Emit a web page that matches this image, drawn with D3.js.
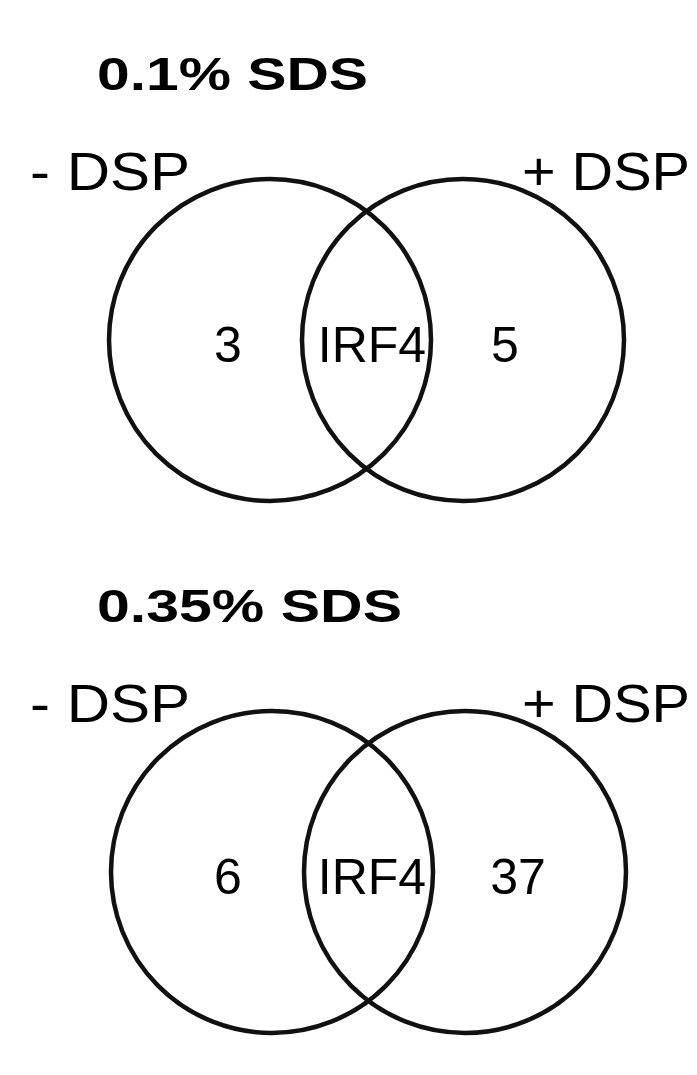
<!DOCTYPE html>
<html><head><meta charset="utf-8">
<script src="https://cdn.jsdelivr.net/npm/d3@7"></script>
<style>body{margin:0;background:#fff}text{font-family:"Liberation Sans",Arial,sans-serif}</style>
</head><body>
<script>
// two panels, one per SDS concentration
const titles=["0.1% SDS","0.35% SDS"];
const leftLabels=["- DSP","- DSP"];
const rightLabels=["+ DSP","+ DSP"];
const onlyMinus=[3,6];
const shared=["IRF4","IRF4"];
const onlyPlus=[5,37];

const w=697,h=1075;
const svg=d3.select("body").append("svg").attr("width",w).attr("height",h);

const panelY=d3.scaleOrdinal().domain([0,1]).range([0,532]);
const x=d3.scaleLinear().domain([0,1]).range([270,463]); // circle centres
const r=161;

titles.forEach((t,i)=>{
  const g=svg.append("g").attr("transform","translate(0,"+panelY(i)+")");
  g.append("text").attr("x",97).attr("y",90).attr("font-size",46).attr("font-weight","bold")
    .attr("textLength",i?305:271).attr("lengthAdjust","spacingAndGlyphs").text(t);
  g.append("text").attr("x",30).attr("y",190).attr("font-size",54)
    .attr("textLength",160).attr("lengthAdjust","spacingAndGlyphs").text(leftLabels[i]);
  g.append("text").attr("x",522).attr("y",190).attr("font-size",54)
    .attr("textLength",168).attr("lengthAdjust","spacingAndGlyphs").text(rightLabels[i]);
  g.selectAll("circle").data([0,1]).enter().append("circle")
    .attr("cx",d=>x(d)+(i?2:0)).attr("cy",340).attr("r",r)
    .attr("fill","none").attr("stroke","#111").attr("stroke-width",4.5);
  const nums=[[228,onlyMinus[i]],[372,shared[i]],[i?518:505,onlyPlus[i]]];
  g.selectAll("text.n").data(nums).enter().append("text").attr("class","n")
    .attr("x",d=>d[0]).attr("y",362).attr("font-size",50).attr("text-anchor","middle")
    .text(d=>d[1]);
});
</script>
</body></html>
